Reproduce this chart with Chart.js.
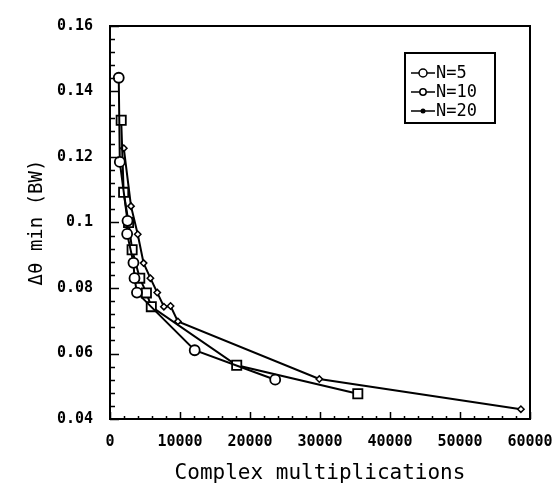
<!DOCTYPE html>
<html><head><meta charset="utf-8">
<script src="https://cdn.jsdelivr.net/npm/chart.js@4/dist/chart.umd.min.js"></script>
<style>html,body{margin:0;padding:0;background:#fff}</style>
</head><body>
<canvas id="c" width="560" height="495"></canvas>
<script>
const seriesLabels = ['N=5', 'N=10', 'N=20'];
const n5X = [1250, 1400, 2500, 2450, 3350, 3500, 3850, 12100, 23600];
const n5Y = [0.1442, 0.1185, 0.1005, 0.0965, 0.0877, 0.0830, 0.0786, 0.0610, 0.0520];
const n10X = [1600, 1950, 2650, 3160, 4250, 5200, 5900, 18100, 35400];
const n10Y = [0.1312, 0.1092, 0.1000, 0.0917, 0.0830, 0.0785, 0.0743, 0.0564, 0.0477];
const n20X = [1970, 3000, 3960, 4800, 5770, 6750, 7700, 8650, 9700, 29900, 58700];
const n20Y = [0.1227, 0.1050, 0.0964, 0.0876, 0.0830, 0.0786, 0.0743, 0.0745, 0.0698, 0.0522, 0.0430];
const xTickValues = [0, 10000, 20000, 30000, 40000, 50000, 60000];
const xTickLabels = ['0', '10000', '20000', '30000', '40000', '50000', '60000'];
const yTickValues = [0.04, 0.06, 0.08, 0.10, 0.12, 0.14, 0.16];
const yTickLabels = ['0.04', '0.06', '0.08', '0.1', '0.12', '0.14', '0.16'];
const xTitle = 'Complex multiplications';
const yTitle = 'Δθ min (BW)';

const pts = (xs, ys) => xs.map((x, i) => ({x: x, y: ys[i]}));
const FONT = '"DejaVu Sans Mono", monospace';

const frameTicks = {
  id: 'frameTicks',
  afterDatasetsDraw(chart) {
    const {ctx, chartArea: a, scales: {x, y}} = chart;
    ctx.save();
    ctx.strokeStyle = '#000';
    ctx.lineWidth = 2;
    ctx.strokeRect(a.left, a.top, a.right - a.left, a.bottom - a.top);
    ctx.lineWidth = 1.5;
    ctx.beginPath();
    for (let v = 0; v <= 60000; v += 2000) {
      const px = Math.round(x.getPixelForValue(v)) + 0.5;
      const len = (v % 10000 === 0) ? 7 : 3;
      ctx.moveTo(px, a.bottom); ctx.lineTo(px, a.bottom - len);
    }
    for (let k = 0; k <= 30; k++) {
      const v = 0.04 + k * 0.004;
      const py = Math.round(y.getPixelForValue(v)) + 0.5;
      const len = (k % 5 === 0) ? 9 : 5;
      ctx.moveTo(a.left, py); ctx.lineTo(a.left + len, py);
    }
    ctx.stroke();
    // legend
    const bx = 405, by = 53, bw = 90, bh = 70;
    ctx.lineWidth = 2;
    ctx.strokeRect(bx, by, bw, bh);
    ctx.font = '17px ' + FONT;
    ctx.textBaseline = 'middle';
    ctx.fillStyle = '#000';
    chart.data.datasets.forEach((ds, i) => {
      const ly = by + 20 + i * 19;
      ctx.lineWidth = 1.5;
      ctx.beginPath(); ctx.moveTo(bx + 6, ly); ctx.lineTo(bx + 30, ly); ctx.stroke();
      ctx.beginPath();
      if (i === 2) { ctx.fillStyle = '#000'; ctx.arc(bx + 18, ly, 2.5, 0, Math.PI * 2); ctx.fill(); }
      else { ctx.fillStyle = '#fff'; ctx.arc(bx + 18, ly, i === 0 ? 4 : 3.2, 0, Math.PI * 2); ctx.fill(); ctx.stroke(); }
      ctx.fillStyle = '#000';
      ctx.fillText(ds.label, bx + 31, ly + 1);
    });
    ctx.restore();
  }
};

new Chart(document.getElementById('c'), {
  type: 'line',
  data: {
    datasets: [
      {label: seriesLabels[0], data: pts(n5X, n5Y), pointStyle: 'circle', pointRadius: 5, pointBorderWidth: 1.8},
      {label: seriesLabels[1], data: pts(n10X, n10Y), pointStyle: 'rect', pointRadius: 6.5, pointBorderWidth: 1.8},
      {label: seriesLabels[2], data: pts(n20X, n20Y), pointStyle: 'rectRot', pointRadius: 3.2, pointBorderWidth: 1.5}
    ].map(d => Object.assign(d, {borderColor: '#000', backgroundColor: '#fff', pointBackgroundColor: '#fff', pointBorderColor: '#000', borderWidth: 2, tension: 0, fill: false}))
  },
  plugins: [frameTicks],
  options: {
    responsive: false,
    devicePixelRatio: 1,
    animation: false,
    layout: {padding: {left: 0, right: 30, top: 19, bottom: 0}},
    plugins: {legend: {display: false}, tooltip: {enabled: false}},
    scales: {
      x: {
        type: 'linear', min: 0, max: 60000,
        afterBuildTicks: s => { s.ticks = xTickValues.map(v => ({value: v})); },
        afterFit: s => { s.height = 76; s.paddingLeft = 0; s.paddingRight = 0; },
        grid: {display: false, drawTicks: false},
        border: {display: true, color: '#000', width: 2},
        ticks: {autoSkip: false, maxRotation: 0, color: '#000', padding: 14, font: {family: FONT, size: 15, weight: 'bold'},
          callback: (v, i) => xTickLabels[i]},
        title: {display: true, text: xTitle, color: '#000', font: {family: FONT, size: 21}, padding: {top: 0, bottom: 9}}
      },
      y: {
        type: 'linear', min: 0.04, max: 0.16,
        afterBuildTicks: s => { s.ticks = yTickValues.map(v => ({value: v})); },
        afterFit: s => { s.width = 110; },
        grid: {display: false, drawTicks: false},
        border: {display: true, color: '#000', width: 2},
        ticks: {autoSkip: false, color: '#000', padding: 17, font: {family: FONT, size: 15, weight: 'bold'},
          callback: (v, i) => yTickLabels[i]},
        title: {display: true, text: yTitle, color: '#000', font: {family: FONT, size: 19}, padding: {top: 26, bottom: 0}}
      }
    }
  }
});
</script>
</body></html>
